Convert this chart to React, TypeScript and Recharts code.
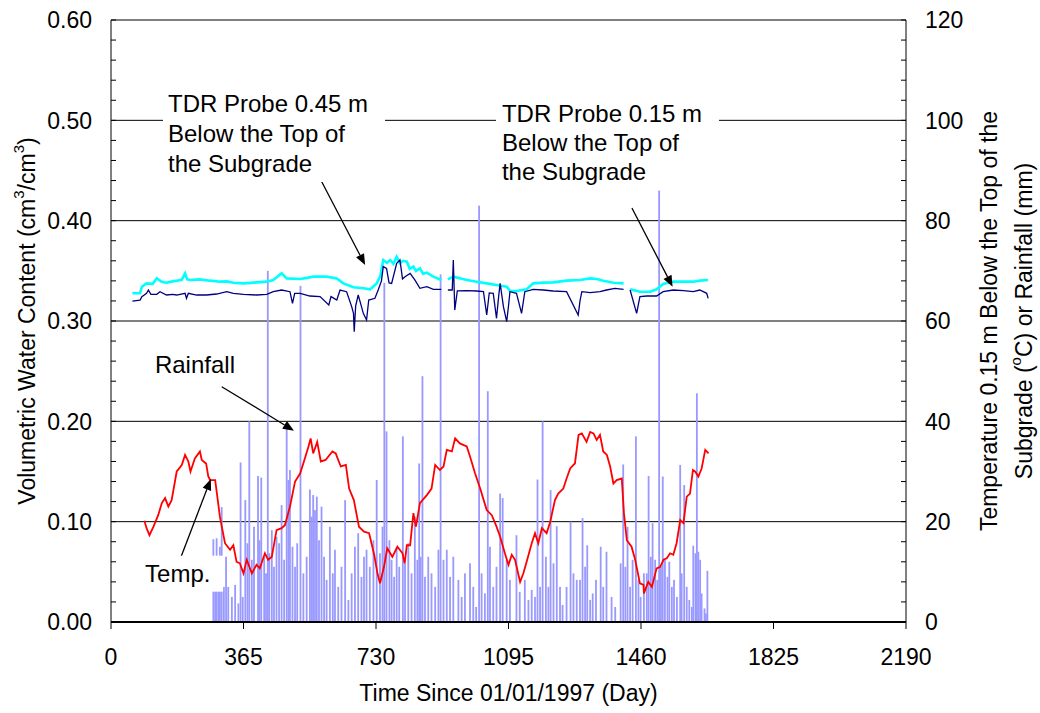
import React from "react";
import {
  ComposedChart,
  Bar,
  Line,
  XAxis,
  YAxis,
  CartesianGrid,
  ReferenceDot,
  ReferenceLine,
} from "recharts";

const FONT = "Arial, 'Liberation Sans', Helvetica, sans-serif";
const W = 1040;
const H = 713;

// ---------- axis ticks ----------
const xTicks = [0, 365, 730, 1095, 1460, 1825, 2190];
const leftTicks = [
  0, 0.02, 0.04, 0.06, 0.08, 0.1, 0.12, 0.14, 0.16, 0.18, 0.2, 0.22, 0.24, 0.26, 0.28, 0.3,
  0.32, 0.34, 0.36, 0.38, 0.4, 0.42, 0.44, 0.46, 0.48, 0.5, 0.52, 0.54, 0.56, 0.58, 0.6,
];
const leftLabelTicks = [0, 0.1, 0.2, 0.3, 0.4, 0.5, 0.6];
const rightTicks = [
  0, 4, 8, 12, 16, 20, 24, 28, 32, 36, 40, 44, 48, 52, 56, 60, 64, 68, 72, 76, 80, 84, 88, 92,
  96, 100, 104, 108, 112, 116, 120,
];
const rightLabelTicks = [0, 20, 40, 60, 80, 100, 120];
const gridValues = [0.1, 0.2, 0.3, 0.4, 0.5, 0.6];

// ---------- series (day, value) ----------
// TDR probe 0.15 m below top of subgrade (cm3/cm3)
const vwc015: [number, number | null][] = [
  [59, 0.3276], [80, 0.3276], [85, 0.3342], [98, 0.3375], [115, 0.337], [126, 0.3425],
  [140, 0.339], [153, 0.3382], [170, 0.3395], [181, 0.3402], [195, 0.341], [204, 0.3475],
  [210, 0.3415], [218, 0.3409], [245, 0.3415], [273, 0.3402], [300, 0.3392], [320, 0.3395],
  [337, 0.3382], [365, 0.3375], [385, 0.338], [401, 0.3385], [429, 0.3392], [447, 0.3409],
  [470, 0.3475], [484, 0.3425], [521, 0.3419], [540, 0.343], [557, 0.3442], [594, 0.3442],
  [622, 0.3425], [640, 0.3375], [668, 0.3336], [695, 0.3326], [714, 0.3316], [732, 0.3375],
  [742, 0.345], [750, 0.3608], [760, 0.358], [769, 0.3608], [778, 0.357], [787, 0.3641],
  [796, 0.3575], [805, 0.36], [815, 0.3591], [823, 0.352], [833, 0.3542], [840, 0.35],
  [851, 0.3525], [860, 0.347], [870, 0.3482], [888, 0.3442], [910, 0.3409], [920, null],
  [928, 0.3415], [943, 0.3442], [961, 0.3425], [980, 0.3409], [1007, 0.3392], [1035, 0.3375],
  [1062, 0.3359], [1090, 0.3342], [1099, 0.3302], [1117, 0.3299], [1145, 0.3316],
  [1163, 0.3375], [1191, 0.3382], [1218, 0.3385], [1255, 0.3402], [1292, 0.3409],
  [1320, 0.3425], [1338, 0.3419], [1356, 0.3402], [1384, 0.3382], [1412, 0.3375], [1421, null],
  [1430, 0.3316], [1457, 0.3292], [1485, 0.3292], [1503, 0.3316], [1521, 0.3369],
  [1549, 0.3392], [1577, 0.3392], [1604, 0.3392], [1622, 0.3402], [1645, 0.3409],
];

// TDR probe 0.45 m below top of subgrade (cm3/cm3)
const vwc045: [number, number | null][] = [
  [59, 0.3199], [80, 0.3209], [85, 0.3243], [98, 0.3276], [103, 0.3309], [110, 0.3266],
  [126, 0.3266], [135, 0.3292], [153, 0.3259], [170, 0.3266], [181, 0.3259], [204, 0.3276],
  [208, 0.3226], [213, 0.3276], [236, 0.3259], [263, 0.3259], [291, 0.3269], [319, 0.3292],
  [337, 0.3276], [365, 0.3266], [401, 0.3259], [429, 0.3266], [447, 0.3292], [470, 0.3309],
  [493, 0.3292], [500, 0.3176], [506, 0.3276], [521, 0.3276], [548, 0.3249], [576, 0.3243],
  [600, 0.3159], [606, 0.3243], [622, 0.3209], [631, 0.3309], [649, 0.3292], [663, 0.3143],
  [668, 0.3076], [670, 0.2894], [674, 0.315], [681, 0.3259], [690, 0.3143], [695, 0.3076],
  [704, 0.301], [710, 0.3209], [727, 0.3226], [736, 0.3309], [745, 0.34], [750, 0.3542],
  [759, 0.3525], [766, 0.338], [773, 0.3375], [787, 0.3575], [796, 0.3608], [803, 0.342],
  [810, 0.3442], [824, 0.3475], [837, 0.3409], [851, 0.3326], [870, 0.3342], [888, 0.3316],
  [910, 0.3316], [920, null], [928, 0.3309], [940, 0.3309], [943, 0.3608], [947, 0.311],
  [954, 0.33], [980, 0.3302], [1007, 0.3299], [1026, 0.3292], [1035, 0.306], [1042, 0.328],
  [1053, 0.3276], [1062, 0.3027], [1068, 0.325], [1072, 0.3375], [1081, 0.3143],
  [1090, 0.2993], [1095, 0.315], [1099, 0.3292], [1117, 0.3276], [1131, 0.3076],
  [1140, 0.3292], [1163, 0.3316], [1191, 0.3309], [1218, 0.3299], [1255, 0.3292],
  [1287, 0.306], [1292, 0.32], [1297, 0.3292], [1320, 0.3282], [1347, 0.3292], [1365, 0.3309],
  [1388, 0.3326], [1412, 0.3316], [1421, null], [1430, 0.3309], [1448, 0.3076],
  [1457, 0.3243], [1476, 0.3249], [1503, 0.3249], [1521, 0.3292], [1549, 0.3309],
  [1577, 0.3302], [1604, 0.3292], [1622, 0.3309], [1641, 0.3276], [1645, 0.3226],
];

// Temperature 0.15 m below top of subgrade (°C)
const temperature: [number, number][] = [
  [92, 20.2], [98, 18.7], [106, 17.3], [117, 19], [130, 21.3], [140, 23.7], [149, 24.7],
  [158, 23], [167, 24.3], [181, 30], [195, 31.3], [204, 33.3], [213, 32], [219, 30],
  [231, 32.6], [245, 34], [250, 32.3], [262, 31.6], [268, 29], [273, 28.3], [287, 28.3],
  [300, 21], [314, 15.7], [328, 14.4], [337, 15.3], [346, 12], [355, 11.7], [365, 9.7],
  [374, 12.4], [388, 9.7], [401, 11.4], [410, 10.7], [424, 13.7], [433, 12.4], [443, 13],
  [456, 18.3], [470, 18.7], [479, 19.3], [493, 23], [507, 28], [521, 29.6], [534, 32.6],
  [544, 35], [550, 36.6], [557, 33.6], [568, 35.9], [578, 32], [591, 32.3], [610, 34],
  [619, 33.6], [633, 31], [647, 31.3], [656, 26.6], [669, 24.3], [683, 19], [697, 18],
  [711, 17.7], [725, 13.4], [734, 9.7], [741, 7.7], [752, 11], [761, 14.7], [775, 13],
  [789, 15], [803, 13.7], [809, 11.7], [815, 15.3], [824, 15.3], [833, 21.7], [840, 19],
  [851, 23.7], [870, 25.3], [883, 26.6], [893, 31.3], [906, 30.3], [916, 31], [925, 34.3],
  [939, 34], [948, 36.6], [961, 35.6], [980, 35], [989, 33], [1003, 29.6], [1017, 26.6],
  [1035, 22.3], [1049, 21.3], [1062, 19], [1072, 17], [1085, 13.7], [1095, 11.4],
  [1104, 13.4], [1113, 12.4], [1127, 8], [1136, 9.7], [1145, 12], [1159, 15.7], [1168, 17.7],
  [1177, 15.7], [1187, 18.7], [1200, 17.7], [1210, 20], [1223, 24.3], [1232, 25.6],
  [1246, 26.6], [1255, 28.6], [1265, 30.6], [1274, 31.3], [1278, 31.6], [1288, 37.3],
  [1297, 37.6], [1310, 35.9], [1320, 37.9], [1329, 37.6], [1338, 36.3], [1347, 37.3],
  [1356, 34], [1366, 33.3], [1375, 31], [1384, 27.6], [1393, 28.3], [1407, 28.6],
  [1413, 21.7], [1421, 16.3], [1434, 15], [1444, 12.4], [1457, 7.7], [1467, 7.4], [1468, 5.7],
  [1480, 8], [1490, 7], [1503, 10.7], [1513, 11], [1522, 12.4], [1531, 12.7], [1540, 13.7],
  [1549, 13.4], [1558, 15.7], [1568, 20.3], [1577, 19.7], [1586, 25], [1595, 25.6],
  [1603, 30.3], [1609, 30], [1618, 29], [1627, 30.6], [1637, 34.3], [1646, 33.6],
];

// Daily rainfall (mm)
const rainfall: [number, number][] = [
  [282, 16.5], [287, 13], [291, 16.7], [296, 11], [300, 15], [305, 22.9], [311, 7], [317, 13],
  [323, 7], [333, 5], [342, 7.4], [351, 3.7], [357, 31.8], [363, 5], [370, 24.3], [376, 15.7],
  [381, 40], [388, 12.4], [394, 19], [405, 29.1], [409, 16.3], [414, 28.8], [422, 13],
  [427, 9.7], [432, 70], [436, 13.7], [443, 18.3], [449, 11], [456, 17], [463, 15.7],
  [470, 23.3], [477, 12.4], [484, 38.6], [489, 28.3], [493, 30.3], [500, 15], [507, 11],
  [513, 15.7], [522, 67], [530, 9.7], [539, 13], [548, 26.4], [553, 21], [557, 25.3],
  [562, 22.3], [567, 25], [573, 16.3], [580, 23], [587, 13], [594, 8.4], [603, 19],
  [611, 9.7], [617, 14.4], [626, 7], [635, 11], [645, 24.3], [654, 4.4], [663, 9.7],
  [672, 15], [681, 17.7], [690, 9], [697, 13], [704, 14.4], [713, 11], [723, 16.3],
  [732, 28.3], [741, 13.7], [748, 19], [753, 67.6], [759, 38], [767, 16.3], [773, 12.4],
  [780, 9], [787, 15], [794, 11], [804, 37], [810, 11.7], [819, 15.7], [828, 9.7], [837, 21],
  [844, 12.4], [849, 31.6], [853, 13], [858, 49], [865, 9], [874, 13], [883, 9.7], [893, 7],
  [902, 14.4], [908, 69.3], [916, 12.4], [925, 14.4], [934, 9], [943, 13], [957, 8.4],
  [966, 5], [975, 9.7], [989, 11.7], [998, 7], [1006, 3], [1014, 83], [1021, 9.7],
  [1030, 5.7], [1038, 46], [1044, 15], [1053, 7], [1062, 11], [1072, 25.6], [1079, 24.7],
  [1090, 12.4], [1099, 8.4], [1117, 17.3], [1126, 6], [1140, 8.4], [1150, 4.4], [1159, 6.4],
  [1168, 5], [1175, 28.4], [1182, 7], [1189, 40], [1198, 13], [1205, 7], [1211, 26.3],
  [1219, 11.7], [1228, 19.1], [1237, 7], [1244, 3.4], [1255, 7], [1266, 20], [1274, 9.7],
  [1283, 8.4], [1292, 8.4], [1299, 20.7], [1306, 11], [1312, 15.3], [1320, 4.4], [1327, 5.7],
  [1336, 8.4], [1349, 15], [1356, 7], [1365, 14], [1379, 5], [1389, 3], [1404, 11.7],
  [1411, 31.4], [1417, 11], [1423, 19], [1430, 7], [1437, 12.4], [1446, 37], [1453, 8.4],
  [1459, 5], [1468, 9.7], [1476, 9.7], [1481, 29.1], [1487, 13], [1492, 19.7], [1499, 12.4],
  [1505, 8.4], [1510, 86], [1515, 11], [1520, 29], [1526, 12.4], [1533, 9], [1538, 12],
  [1545, 7], [1551, 8.4], [1559, 5], [1568, 31.3], [1572, 9.7], [1579, 27.3], [1586, 7],
  [1593, 4.4], [1600, 3], [1604, 15.2], [1610, 13.7], [1614, 45.6], [1618, 14], [1623, 12.4],
  [1627, 5.7], [1635, 2.7], [1639, 1.7], [1643, 10.2],
];

// ---------- annotations (anchored in data coordinates) ----------
const textNotes = [
  { lines: ["TDR Probe 0.45 m", "Below the Top of", "the Subgrade"], day: 157, vwc: 0.5083, boxW: 222, padL: 5, lh: 30 },
  { lines: ["TDR Probe 0.15 m", "Below the Top of", "the Subgrade"], day: 1077, vwc: 0.4984, boxW: 223, padL: 6, lh: 29 },
  { lines: ["Rainfall"], day: 121, vwc: 0.2479, boxW: 0, padL: 0, lh: 0 },
  { lines: ["Temp."], day: 94, vwc: 0.0402, boxW: 84, padL: 6, lh: 0 },
];
const arrows = [
  { from: [578, 0.4405], to: [700, 0.3558] },
  { from: [1435, 0.4126], to: [1547, 0.3342] },
  { from: [305, 0.2345], to: [504, 0.1907] },
  { from: [193, 0.0651], to: [275, 0.1425] },
];

// ---------- tables for the library ----------
const rainRows = rainfall.map(([day, mm]) => ({ day, rain: mm }));
const rows015 = vwc015.map(([day, v]) => ({ day, vwc015: v }));
const rows045 = vwc045.map(([day, v]) => ({ day, vwc045: v }));
const tempRows = temperature.map(([day, t]) => ({ day, temp: t }));

const isIn = (arr: number[], v: number) => arr.some((t) => Math.abs(t - v) < 1e-9);

const LeftTick = (props: any) => {
  const { x, y, payload } = props;
  const v = payload.value as number;
  return (
    <g>
      <line x1={x} y1={y} x2={x + 5} y2={y} stroke="#000" strokeWidth={1} />
      {isIn(leftLabelTicks, v) && (
        <text x={x - 19} y={y} dy="0.36em" textAnchor="end" fontSize={23} fontFamily={FONT} fill="#000">
          {v.toFixed(2)}
        </text>
      )}
    </g>
  );
};

const RightTick = (props: any) => {
  const { x, y, payload } = props;
  const v = payload.value as number;
  return (
    <g>
      <line x1={x - 5} y1={y} x2={x} y2={y} stroke="#000" strokeWidth={1} />
      {isIn(rightLabelTicks, v) && (
        <text x={x + 19} y={y} dy="0.36em" textAnchor="start" fontSize={23} fontFamily={FONT} fill="#000">
          {String(v)}
        </text>
      )}
    </g>
  );
};

const BottomTick = (props: any) => {
  const { x, y, payload } = props;
  return (
    <g>
      <line x1={x} y1={y} x2={x} y2={y + 7} stroke="#000" strokeWidth={1} />
      <text x={x} y={y + 43} textAnchor="middle" fontSize={23} fontFamily={FONT} fill="#000">
        {String(payload.value)}
      </text>
    </g>
  );
};

const LeftTitle = (props: any) => {
  const vb = props.viewBox || { x: 0, y: 20, width: 111, height: 602 };
  const cy = vb.y + vb.height / 2;
  return (
    <text
      transform={`translate(27, ${cy}) rotate(-90)`}
      textAnchor="middle"
      dominantBaseline="central"
      fontSize={23}
      fontFamily={FONT}
      fill="#000"
    >
      Volumetric Water Content (cm
      <tspan dy={-9} fontSize={15}>3</tspan>
      <tspan dy={9}>/cm</tspan>
      <tspan dy={-9} fontSize={15}>3</tspan>
      <tspan dy={9}>)</tspan>
    </text>
  );
};

const RightTitle = (props: any) => {
  const vb = props.viewBox || { x: 906, y: 20, width: 134, height: 602 };
  const cy = vb.y + vb.height / 2;
  return (
    <g>
      <text
        transform={`translate(989, ${cy}) rotate(-90)`}
        textAnchor="middle"
        dominantBaseline="central"
        fontSize={23}
        fontFamily={FONT}
        fill="#000"
      >
        Temperature 0.15 m Below the Top of the
      </text>
      <text
        transform={`translate(1024, ${cy}) rotate(-90)`}
        textAnchor="middle"
        dominantBaseline="central"
        fontSize={23}
        fontFamily={FONT}
        fill="#000"
      >
        Subgrade (
        <tspan dy={-9} fontSize={15}>o</tspan>
        <tspan dy={9}>C) or Rainfall (mm)</tspan>
      </text>
    </g>
  );
};

const BottomTitle = (props: any) => {
  const vb = props.viewBox || { x: 111, y: 622, width: 795, height: 91 };
  return (
    <text
      x={vb.x + vb.width / 2}
      y={701}
      textAnchor="middle"
      fontSize={23}
      fontFamily={FONT}
      fill="#000"
    >
      Time Since 01/01/1997 (Day)
    </text>
  );
};

const NoteShape = (note: (typeof textNotes)[number]) => (p: any) => {
  const { cx, cy } = p;
  if (cx == null || cy == null) return <g />;
  const n = note.lines.length;
  const boxH = 28 + (n - 1) * note.lh;
  return (
    <g>
      {note.boxW > 0 && (
        <rect x={cx - note.padL} y={cy - 26} width={note.boxW} height={boxH + 8} fill="#fff" />
      )}
      {note.lines.map((ln, i) => (
        <text key={i} x={cx} y={cy + i * note.lh} fontSize={24} fontFamily={FONT} fill="#000">
          {ln}
        </text>
      ))}
    </g>
  );
};

const ArrowShape = (p: any) => {
  const { x1, y1, x2, y2 } = p;
  if ([x1, y1, x2, y2].some((v) => v == null || isNaN(v))) return <g />;
  const ang = Math.atan2(y2 - y1, x2 - x1);
  const L = 11;
  const Wd = 4.5;
  const bx = x2 - L * Math.cos(ang);
  const by = y2 - L * Math.sin(ang);
  const px = -Math.sin(ang) * Wd;
  const py = Math.cos(ang) * Wd;
  return (
    <g>
      <line x1={x1} y1={y1} x2={bx} y2={by} stroke="#000" strokeWidth={1.3} />
      <polygon points={`${x2},${y2} ${bx + px},${by + py} ${bx - px},${by - py}`} fill="#000" />
    </g>
  );
};

const RainBarShape = (p: any) => {
  const { x, y, width, height } = p;
  if (height == null || isNaN(height) || height <= 0) return <g />;
  const cx = x + width / 2;
  return <rect x={cx - 0.9} y={y} width={1.8} height={height} fill="#9999FF" />;
};

export default function App() {
  const rainStart = rainfall[0][0];
  const rainEnd = rainfall[rainfall.length - 1][0];
  return (
    <div style={{ position: "absolute", left: 0, top: 0, width: W, height: H, background: "#fff" }}>
      <ComposedChart
        width={W}
        height={H}
        data={rainRows}
        margin={{ top: 20, right: 0, bottom: 0, left: 0 }}
      >
        <CartesianGrid
          yAxisId="left"
          horizontal
          vertical={false}
          horizontalValues={gridValues}
          stroke="#000"
          strokeWidth={1}
        />
        <XAxis
          dataKey="day"
          type="number"
          domain={[0, 2190]}
          ticks={xTicks}
          interval={0}
          tickLine={false}
          tickSize={0}
          tickMargin={0}
          tick={<BottomTick />}
          axisLine={{ stroke: "#000", strokeWidth: 2 }}
          height={91}
          allowDataOverflow
          label={BottomTitle}
        />
        <YAxis
          yAxisId="left"
          orientation="left"
          type="number"
          width={111}
          domain={[0, 0.6]}
          ticks={leftTicks}
          interval={0}
          tickLine={false}
          tickSize={0}
          tickMargin={0}
          tick={<LeftTick />}
          axisLine={{ stroke: "#000", strokeWidth: 1 }}
          allowDataOverflow
          label={LeftTitle}
        />
        <YAxis
          yAxisId="right"
          orientation="right"
          type="number"
          width={134}
          domain={[0, 120]}
          ticks={rightTicks}
          interval={0}
          tickLine={false}
          tickSize={0}
          tickMargin={0}
          tick={<RightTick />}
          axisLine={{ stroke: "#000", strokeWidth: 1 }}
          allowDataOverflow
          label={RightTitle}
        />
        <Bar
          yAxisId="right"
          dataKey="rain"
          fill="#9999FF"
          barSize={2}
          shape={RainBarShape}
          isAnimationActive={false}
        />
        <ReferenceLine
          yAxisId="right"
          segment={[
            { x: rainStart, y: 0 },
            { x: rainEnd, y: 0 },
          ]}
          stroke="#9999FF"
          strokeWidth={2}
        />
        <Line
          yAxisId="left"
          data={rows015}
          dataKey="vwc015"
          stroke="#00FFFF"
          strokeWidth={2.6}
          dot={false}
          activeDot={false}
          connectNulls={false}
          type="linear"
          isAnimationActive={false}
        />
        <Line
          yAxisId="left"
          data={rows045}
          dataKey="vwc045"
          stroke="#000080"
          strokeWidth={1.3}
          dot={false}
          activeDot={false}
          connectNulls={false}
          type="linear"
          isAnimationActive={false}
        />
        <Line
          yAxisId="right"
          data={tempRows}
          dataKey="temp"
          stroke="#FF0000"
          strokeWidth={1.8}
          dot={false}
          activeDot={false}
          type="linear"
          isAnimationActive={false}
        />
        {arrows.map((a, i) => (
          <ReferenceLine
            key={`ar${i}`}
            yAxisId="left"
            segment={[
              { x: a.from[0], y: a.from[1] },
              { x: a.to[0], y: a.to[1] },
            ]}
            shape={ArrowShape}
          />
        ))}
        {textNotes.map((n, i) => (
          <ReferenceDot
            key={`nt${i}`}
            yAxisId="left"
            x={n.day}
            y={n.vwc}
            r={0}
            shape={NoteShape(n)}
          />
        ))}
      </ComposedChart>
    </div>
  );
}
